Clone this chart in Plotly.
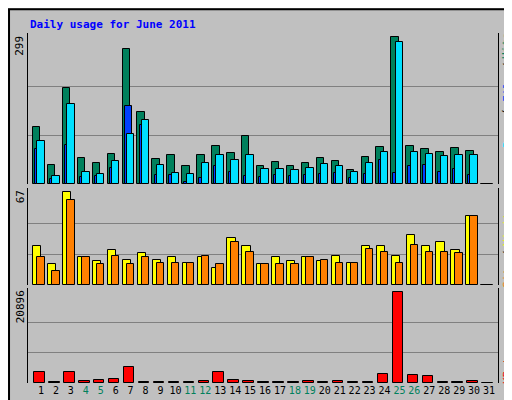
"""Webalizer-style daily usage chart for June 2011."""

import plotly.graph_objects as go

DAYS = list(range(1, 32))
WEEKEND = [4, 5, 11, 12, 18, 19, 25, 26]

HITS = [115, 38, 196, 52, 42, 62, 275, 146, 50, 58, 36, 60, 78, 64, 97, 36,
        44, 36, 42, 52, 46, 28, 54, 76, 299, 78, 72, 66, 74, 68, 0]
FILES = [87, 16, 162, 24, 20, 46, 101, 131, 38, 22, 20, 42, 60, 48, 60, 30,
         30, 28, 32, 40, 36, 24, 42, 66, 288, 66, 62, 56, 60, 60, 0]
PAGES = [72, 10, 80, 14, 16, 32, 158, 119, 18, 18, 5, 12, 36, 24, 16, 14,
         18, 16, 18, 20, 22, 12, 20, 48, 22, 36, 38, 24, 30, 18, 0]
VISITS = [28, 15, 67, 20, 17, 25, 18, 23, 18, 20, 16, 20, 12, 34, 28, 15,
          20, 17, 20, 17, 21, 16, 28, 28, 21, 36, 28, 31, 25, 50, 0]
SITES = [20, 10, 61, 20, 15, 21, 15, 20, 16, 16, 16, 21, 15, 31, 24, 15,
         15, 15, 20, 18, 16, 16, 26, 24, 16, 29, 24, 24, 23, 50, 0]
KBYTES = [2525, 200, 2525, 460, 690, 920, 3670, 200, 200, 200, 200, 460, 2525, 690, 460, 200,
          200, 200, 460, 200, 460, 200, 200, 2070, 20896, 1840, 1610, 200, 200, 460, 0]

MAX_HITS = 299
MAX_VISITS = 67
MAX_KB = 20896

BG = '#C0C0C0'
FONT = 'DejaVu Sans Mono'
X_DOM = [20 / 512, 490 / 512]
DOMS = {'y': [0.56, 0.9375], 'y2': [0.3075, 0.55], 'y3': [0.0625, 0.30]}


def bar(y, color, offset, width, axis):
    return go.Bar(x=DAYS, y=y, offset=offset, width=width, marker_color=color,
                  marker_line=dict(color='black', width=1), xaxis='x', yaxis=axis,
                  showlegend=False, hoverinfo='y')


fig = go.Figure()
fig.add_trace(bar(HITS, '#00805C', -0.54, 0.5, 'y'))
fig.add_trace(bar(PAGES, '#0040FF', -0.4, 0.47, 'y'))
fig.add_trace(bar(FILES, '#00E0FF', -0.25, 0.5, 'y'))
fig.add_trace(bar(VISITS, '#FFFF00', -0.52, 0.55, 'y2'))
fig.add_trace(bar(SITES, '#FF8000', -0.25, 0.5, 'y2'))
fig.add_trace(bar(KBYTES, '#FF0000', -0.45, 0.7, 'y3'))

ticktext = [f"<span style='color:{'#00805C' if d in WEEKEND else 'black'}'>{d}</span>" for d in DAYS]


def yax(dom, top, maxv):
    return dict(domain=dom, range=[0, top], tickvals=[maxv / 3, maxv * 2 / 3],
                showticklabels=False, showgrid=True, gridcolor='#808080', gridwidth=1,
                zeroline=False, showline=True, linecolor='black', mirror=True,
                anchor='x', fixedrange=True)


fig.update_layout(
    width=512, height=400, margin=dict(l=0, r=0, t=0, b=0),
    paper_bgcolor=BG, plot_bgcolor=BG, barmode='overlay', bargap=0,
    font=dict(family=FONT, size=11, color='black'),
    xaxis=dict(domain=X_DOM, range=[0.13, 31.6], tickvals=DAYS, ticktext=ticktext,
               tickangle=0, showgrid=False, zeroline=False, ticks='', anchor='y3',
               tickfont=dict(size=10, family=FONT), fixedrange=True),
    yaxis=yax(DOMS['y'], MAX_HITS * 151 / 147, MAX_HITS),
    yaxis2=yax(DOMS['y2'], MAX_VISITS * 288 / 276, MAX_VISITS),
    yaxis3=yax(DOMS['y3'], MAX_KB * 285 / 273, MAX_KB),
)

annotations = [
    dict(x=20 / 512, y=1 - 8 / 400, text='<b>Daily usage for June 2011</b>', xanchor='left',
         yanchor='top', font=dict(color='#0000FF', size=11)),
]
for label, dom in [(str(MAX_HITS), DOMS['y']), (str(MAX_VISITS), DOMS['y2']), (str(MAX_KB), DOMS['y3'])]:
    annotations.append(dict(x=12 / 512, y=dom[1] - 0.002, text=label, textangle=-90,
                            xanchor='center', yanchor='top', font=dict(size=11)))

# right-hand legend words, (text, colour, centre pixel from top)
right = [
    ('Pages', '#00E0FF', 124), ('/', 'black', 105), ('Files', '#0040FF', 78),
    ('/', 'black', 58), ('Hits', '#00805C', 38),
    ('Sites', '#FF8000', 264), ('/', 'black', 246), ('Visits', '#FFFF00', 218),
    ('KBytes', '#FF0000', 356),
]
for text, color, py in right:
    annotations.append(dict(x=499 / 512, y=1 - py / 400, text=text, textangle=-90,
                            xanchor='center', yanchor='middle',
                            font=dict(size=11, color=color)))
for a in annotations:
    a.update(xref='paper', yref='paper', showarrow=False)
fig.update_layout(annotations=annotations)

fig.update_layout(shapes=[
    dict(type='rect', xref='paper', yref='paper', x0=0.002, y0=0.003, x1=0.998, y1=0.997,
         line=dict(color='black', width=2)),
    dict(type='line', xref='paper', yref='paper', x0=1 - 5 / 512, y0=0.01, x1=1 - 5 / 512, y1=0.99,
         line=dict(color='#808080', width=4)),
    dict(type='line', xref='paper', yref='paper', x0=0.01, y0=4 / 400, x1=0.99, y1=4 / 400,
         line=dict(color='#808080', width=4)),
])

fig.write_html("out.html")
